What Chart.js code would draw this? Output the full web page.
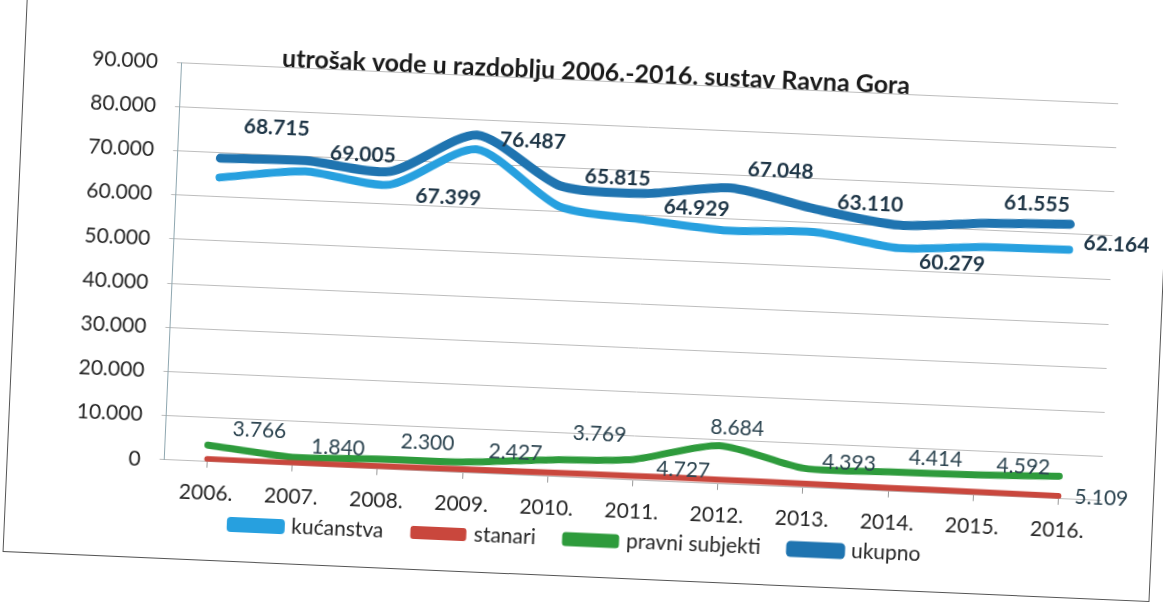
<!DOCTYPE html>
<html>
<head>
<meta charset="utf-8">
<script src="https://cdn.jsdelivr.net/npm/chart.js@4.4.0/dist/chart.umd.min.js"></script>
<style>
  html, body { margin: 0; padding: 0; background: #fff; overflow: hidden; }
  #wrap { position: relative; width: 1163px; height: 604px; transform: rotate(2.5deg); transform-origin: 581px 302px; }
  #frame { position: absolute; left: 14px; top: -30px; width: 1148px; height: 607px; border: 1.5px solid #555; box-sizing: border-box; }
  canvas { position: absolute; left: 0; top: 0; }
</style>
</head>
<body>
<div id="wrap">
  <div id="frame"></div>
  <canvas id="vodaChart" width="1163" height="604"></canvas>
</div>
<script>
// godine i tick oznake
const years = ['2006.', '2007.', '2008.', '2009.', '2010.', '2011.', '2012.', '2013.', '2014.', '2015.', '2016.'];
const yTickLabels = ['0', '10.000', '20.000', '30.000', '40.000', '50.000', '60.000', '70.000', '80.000', '90.000'];

// potrošnja po skupinama (m3)
const kucanstva = [64350, 66600, 64400, 73250, 61150, 59000, 57350, 57900, 55100, 56200, 56400];
const stanari = [600, 500, 700, 800, 900, 1000, 1000, 900, 800, 750, 650];
const pravniSubjekti = [3766, 1840, 2300, 2427, 3769, 4727, 8684, 4393, 4414, 4592, 5109];
const ukupno = [68715, 69005, 67399, 76487, 65815, 64929, 67048, 63110, 60279, 61555, 62164];

// pomak oznaka vrijednosti od tocke (px)
const ukupnoDx = [55, 57, 59, 56, 57, 52, 49, 55, 54, 51, 47];
const ukupnoDy = [-33, -9, 23, 4, -11, 12, -19, -8, 36, -21, 18];
const pravniDx = [51, 45, 49, 52, 50, 50, 17, 45, 46, 49, 43];
const pravniDy = [-17, -11, -18, -12, -28, 8, -18, -7, -15, -10, 20];

const fmt = v => String(v).replace(/\B(?=(\d{3})+(?!\d))/g, '.');

const labelSets = [
    { dataset: 3, values: ukupno, dx: ukupnoDx, dy: ukupnoDy, font: 'bold 21px Lato', color: '#1f3647' },
    { dataset: 2, values: pravniSubjekti, dx: pravniDx, dy: pravniDy, font: '21px Lato', color: '#2c4450' }
];

const valueLabels = {
    id: 'valueLabels',
    afterDatasetsDraw(chart) {
        const ctx = chart.ctx;
        labelSets.forEach(set => {
            const meta = chart.getDatasetMeta(set.dataset);
            ctx.save();
            ctx.font = set.font;
            ctx.fillStyle = set.color;
            ctx.textAlign = 'center';
            ctx.textBaseline = 'middle';
            meta.data.forEach((pt, i) => {
                ctx.fillText(fmt(set.values[i]), pt.x + set.dx[i], pt.y + set.dy[i]);
            });
            ctx.restore();
        });
    }
};

// legenda je u originalu odmah ispod godina
const legendLift = {
    id: 'legendLift',
    afterLayout(chart) {
        chart.legend.top -= 36;
        chart.legend.bottom -= 36;
    }
};

function line(label, values, color, width) {
    return {
        label: label,
        data: values,
        borderColor: color,
        backgroundColor: color,
        borderWidth: width,
        borderCapStyle: 'round',
        borderJoinStyle: 'round',
        pointRadius: 0,
        tension: 0.25,
        fill: false
    };
}

const ctx = document.getElementById('vodaChart').getContext('2d');

const vodaChart = new Chart(ctx, {
    type: 'line',
    data: {
        labels: years,
        datasets: [
            line('kućanstva', kucanstva, '#27a0df', 8),
            line('stanari', stanari, '#c9473d', 6),
            line('pravni subjekti', pravniSubjekti, '#2e9b3c', 7),
            line('ukupno', ukupno, '#1f74b0', 9)
        ]
    },
    options: {
        responsive: false,
        animation: false,
        layout: { padding: { left: 63, right: 54, top: 0, bottom: 8 } },
        scales: {
            x: {
                offset: true,
                grid: { drawOnChartArea: false, drawTicks: true, tickLength: 6, color: '#999' },
                border: { display: false },
                ticks: { padding: 13, color: '#262626', font: { family: 'Lato', size: 21 } }
            },
            y: {
                min: 0,
                max: 90000,
                grid: { color: '#bdbdbd', tickLength: 5 },
                border: { color: '#8fa7b0' },
                ticks: {
                    stepSize: 10000,
                    padding: 19,
                    color: '#262626',
                    font: { family: 'Lato', size: 21 },
                    callback: (value, index) => yTickLabels[index]
                }
            }
        },
        plugins: {
            title: {
                display: true,
                text: 'utrošak vode u razdoblju 2006.-2016. sustav Ravna Gora',
                color: '#1a1a1a',
                font: { family: 'Lato', size: 25, weight: 'bold' },
                padding: { top: 57, bottom: -7 }
            },
            legend: {
                position: 'bottom',
                labels: {
                    boxWidth: 50,
                    boxHeight: 7,
                    padding: 30,
                    color: '#262626',
                    font: { family: 'Lato', size: 21 }
                }
            },
            tooltip: { enabled: false }
        }
    },
    plugins: [valueLabels, legendLift]
});
</script>
</body>
</html>
